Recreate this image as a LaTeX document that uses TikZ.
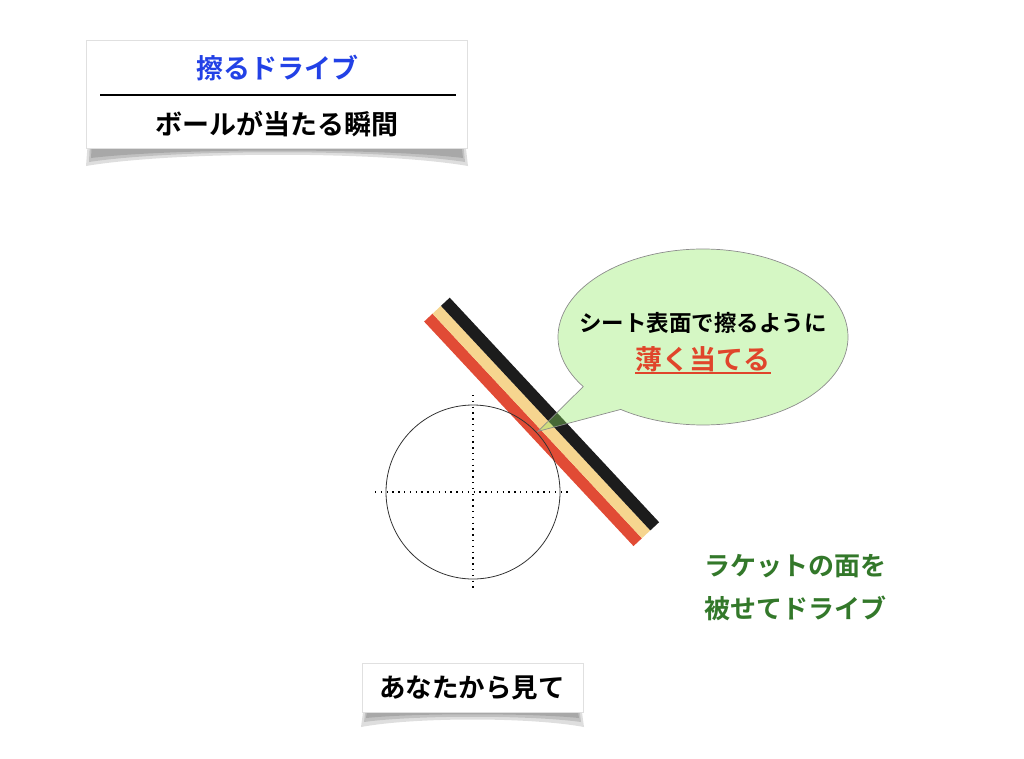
\documentclass[tikz,border=0pt]{standalone}
\usepackage{fontspec}
\newfontfamily\jp[BoldFont={Noto Sans CJK JP Bold}]{Noto Sans CJK JP}
\usetikzlibrary{calc}
\definecolor{titleblue}{HTML}{2241E6}
\definecolor{racketred}{HTML}{E14B35}
\definecolor{racketcream}{HTML}{F6D58F}
\definecolor{racketblack}{HTML}{1C1C1C}
\definecolor{bubblegreen}{HTML}{90EB63}
\definecolor{textgreen}{HTML}{33782A}
\definecolor{textred}{HTML}{E0452B}
\begin{document}
\begin{tikzpicture}[
        x = 1pt, y = -1pt,
        jptext/.style = {font = \jp\bfseries\fontsize{#1}{#1}\selectfont, inner sep = 0pt},
        jptext/.default = 26,
        card/.style = {fill = white, draw = black!12, line width = 0.5pt},
        shade layer/.style = {fill = black, fill opacity = 0.13, draw = none},
        axis line/.style = {line width = 1.2pt, dash pattern = on 1.3pt off 4.5pt},
        bubble/.style = {fill = bubblegreen, fill opacity = 0.375, draw = black!45, line width = 0.7pt}
    ]
    \useasboundingbox (0,0) rectangle (1024,758);

    % title card
    \fill[shade layer] (88,140) -- (465,140) -- (468,166) .. controls (380,151) and (175,151) .. (86,166) -- cycle;
    \fill[shade layer] (90,140) -- (463,140) -- (465,162) .. controls (380,149) and (175,149) .. (89,162) -- cycle;
    \fill[shade layer] (92,140) -- (461,140) -- (463,158) .. controls (380,148) and (175,148) .. (91,158) -- cycle;
    \draw[card] (86,40) rectangle (467,148);
    \node[jptext = 27, text = titleblue] (title) at (277,68) {擦るドライブ};
    \coordinate (rule w) at (100,95);
    \coordinate (rule e) at (456,95);
    \draw[line width = 1.2pt] (rule w) -- (rule e);
    \node[jptext = 27] (moment) at (277,124) {ボールが当たる瞬間};

    % ball seen from the player
    \coordinate (ball) at (473,492);
    \coordinate (axis w) at (375,492);
    \coordinate (axis e) at (572,492);
    \coordinate (axis n) at (473,395);
    \coordinate (axis s) at (473,592);
    \draw[axis line] (axis w) -- (axis e);
    \draw[axis line] (axis n) -- (axis s);

    % racket face, three layers
    \begin{scope}[shift = {(ball)}, rotate = -47]
        \fill[racketred] (-158,-80.5) rectangle (149,-92);
        \fill[racketcream] (-158,-92) rectangle (149,-103.5);
        \fill[racketblack] (-158,-103.5) rectangle (149,-115.5);
    \end{scope}
    \draw[line width = 0.8pt, black!80] (ball) circle[radius = 87];

    % speech bubble
    \coordinate (bubble) at (703,337);
    \coordinate (tip) at ($(ball) + (-43:89)$);
    \path (bubble) ++(145.7:145 and 88) coordinate (tail a);
    \draw[bubble] (tip) -- (tail a) arc[start angle = 145.7, end angle = 484.6, x radius = 145, y radius = 88] -- cycle;
    \node[jptext = 22.5] (rub) at (703,323) {シート表面で擦るように};
    \node[jptext = 27, text = textred] (thin) at (703,359) {薄く当てる};
    \draw[textred, line width = 2pt] ([yshift = -1pt] thin.south west) -- ([yshift = -1pt] thin.south east);

    % note on the right
    \node[jptext = 26, text = textgreen] (face) at (795,566) {ラケットの面を};
    \node[jptext = 26, text = textgreen] (cover) at (795,608) {被せてドライブ};

    % bottom card
    \fill[shade layer] (364,705) -- (581,705) -- (584,727) .. controls (530,717) and (415,717) .. (361,727) -- cycle;
    \fill[shade layer] (366,705) -- (579,705) -- (581,722) .. controls (530,715) and (415,715) .. (364,722) -- cycle;
    \fill[shade layer] (368,705) -- (577,705) -- (579,718) .. controls (530,713) and (415,713) .. (366,718) -- cycle;
    \draw[card] (362,663) rectangle (583,712);
    \node[jptext = 26.5] (view) at (472,688) {あなたから見て};
\end{tikzpicture}
\end{document}
